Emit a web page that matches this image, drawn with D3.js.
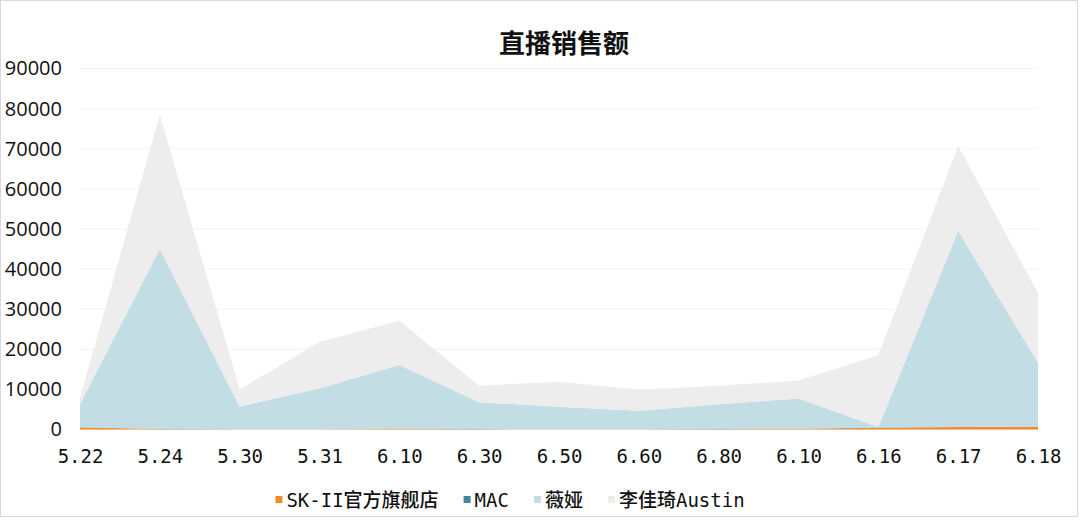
<!DOCTYPE html>
<html>
<head>
<meta charset="utf-8">
<script src="https://cdn.jsdelivr.net/npm/d3@7"></script>
<style>
  body { margin: 0; background: #fff; }
  svg { display: block; }
</style>
</head>
<body>
<div id="chart"></div>
<script>
// categories along the x axis (note: 6.10 appears twice in the source)
var dates = ["5.22", "5.24", "5.30", "5.31", "6.10", "6.30", "6.50", "6.60", "6.80", "6.10", "6.16", "6.17", "6.18"];

// series values, bottom to top of the stack
var skii  = [550, 80, 50, 50, 100, 80, 60, 60, 80, 150, 450, 600, 650];
var mac   = [30, 20, 20, 20, 20, 20, 20, 20, 20, 20, 20, 20, 20];
var weiya = [5820, 44900, 5630, 10230, 15980, 6700, 5620, 4620, 6200, 7580, 150, 48880, 16030];
var lijiaqi = [1600, 33400, 4300, 11500, 11000, 4100, 6200, 5200, 4600, 4450, 17900, 21200, 17300];

var seriesNames = ["SK-II官方旗舰店", "MAC", "薇娅", "李佳琦Austin"];
var yTicks = [0, 10000, 20000, 30000, 40000, 50000, 60000, 70000, 80000, 90000];

var width = 1080, height = 520;
var colors = ["#f28a2c", "#3c8a9c", "#c2dee4", "#ededed"];

// build rows for d3.stack
var rows = dates.map(function(d, i) {
    return { idx: i, s0: skii[i], s1: mac[i], s2: weiya[i], s3: lijiaqi[i] };
});
var keys = ["s0", "s1", "s2", "s3"];

var svg = d3.select("#chart").append("svg")
    .attr("width", width)
    .attr("height", height);

// outer frame
svg.append("rect")
    .attr("x", 0.5).attr("y", 0.5)
    .attr("width", 1077).attr("height", 516)
    .attr("fill", "#fff")
    .attr("stroke", "#d9d9d9");

var x = d3.scalePoint()
    .domain(d3.range(dates.length))
    .range([80, 1038]);

var y = d3.scaleLinear()
    .domain([0, 90000])
    .range([429.5, 68.5]);

// gridlines
svg.append("g")
    .selectAll("line")
    .data(yTicks)
    .enter().append("line")
    .attr("x1", 80).attr("x2", 1038)
    .attr("y1", function(d) { return y(d); })
    .attr("y2", function(d) { return y(d); })
    .attr("stroke", "#f3f3f3")
    .attr("stroke-width", 1);

// stacked areas
var stack = d3.stack().keys(keys);
var layers = stack(rows);

var area = d3.area()
    .x(function(d) { return x(d.data.idx); })
    .y0(function(d) { return y(d[0]); })
    .y1(function(d) { return y(d[1]); });

svg.append("g")
    .selectAll("path")
    .data(layers)
    .enter().append("path")
    .attr("d", area)
    .attr("fill", function(d, i) { return colors[i]; });

// y axis labels
var yAxis = d3.axisLeft(y)
    .tickValues(yTicks)
    .tickSize(0)
    .tickPadding(0)
    .tickFormat(d3.format("d"));

var yg = svg.append("g")
    .attr("transform", "translate(62,0)")
    .call(yAxis);
yg.select(".domain").remove();
yg.selectAll("text")
    .attr("font-family", "'Open Sans', sans-serif")
    .attr("font-size", 20)
    .attr("fill", "#111");

// x axis labels
var xAxis = d3.axisBottom(x)
    .tickSize(0)
    .tickPadding(0)
    .tickFormat(function(i) { return dates[i]; });

var xg = svg.append("g")
    .attr("transform", "translate(0,449)")
    .call(xAxis);
xg.select(".domain").remove();
xg.selectAll("text")
    .attr("font-family", "'DejaVu Sans Mono', monospace")
    .attr("font-size", 19)
    .attr("fill", "#111");

// title
svg.append("text")
    .attr("x", 564)
    .attr("y", 53)
    .attr("text-anchor", "middle")
    .attr("font-family", "'Noto Sans CJK SC', sans-serif")
    .attr("font-weight", "bold")
    .attr("font-size", 26)
    .attr("fill", "#111")
    .text("直播销售额");

// legend
var legend = svg.append("g");
var lx = 0;
seriesNames.forEach(function(name, i) {
    var item = legend.append("g").attr("transform", "translate(" + lx + ",0)");
    item.append("rect")
        .attr("x", 0).attr("y", -4)
        .attr("width", 7).attr("height", 7)
        .attr("fill", colors[i]);
    var t = item.append("text")
        .attr("x", 11)
        .attr("y", 7)
        .attr("font-family", "'DejaVu Sans Mono', 'Noto Sans CJK SC', monospace")
        .attr("font-size", 19)
        .attr("font-weight", 500)
        .attr("fill", "#111")
        .text(name);
    lx += 11 + t.node().getComputedTextLength() + 25;
});
var legendWidth = lx - 25;
legend.attr("transform", "translate(" + (510 - legendWidth / 2) + ",500)");
</script>
</body>
</html>
